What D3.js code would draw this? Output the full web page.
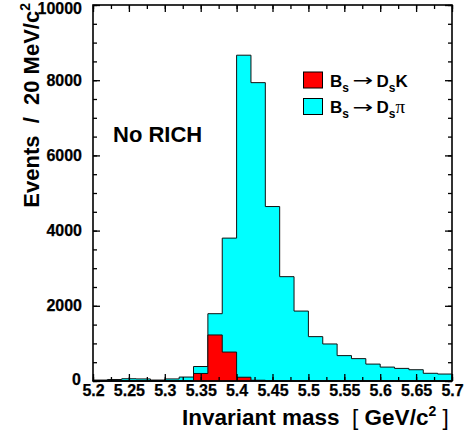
<!DOCTYPE html>
<html><head><meta charset="utf-8">
<script src="https://cdn.jsdelivr.net/npm/d3@7"></script>
<style>
body{margin:0;background:#fff}
svg text{font-family:"Liberation Sans",Arial,Helvetica,sans-serif;}
</style>
</head><body>
<svg id="c" width="470" height="435"></svg>
<script>
// ---- data ----
const binLow = [5.20,5.22,5.24,5.26,5.28,5.30,5.32,5.34,5.36,5.38,5.40,5.42,5.44,5.46,5.48,5.50,5.52,5.54,5.56,5.58,5.60,5.62,5.64,5.66,5.68];
const binWidth = 0.02;
const dsPi = [25,40,60,55,25,55,105,385,1790,3800,8665,7935,4640,2775,1860,1180,985,675,595,450,370,335,300,205,185];
const dsK  = [0,0,0,0,0,0,0,200,1225,770,100,20,0,0,0,0,0,0,0,0,0,0,0,0,0];
const xTickValues = [5.2,5.25,5.3,5.35,5.4,5.45,5.5,5.55,5.6,5.65,5.7];
const xTickLabels = ["5.2","5.25","5.3","5.35","5.4","5.45","5.5","5.55","5.6","5.65","5.7"];
const yTickValues = [0,2000,4000,6000,8000,10000];
const yTickLabels = ["0","2000","4000","6000","8000","10000"];

// ---- layout ----
const L=93, R=452, T=5, B=381;
const svg = d3.select("#c");
svg.append("rect").attr("width",470).attr("height",435).attr("fill","#fff");

const x = d3.scaleLinear([5.2,5.7],[L,R]);
const y = d3.scaleLinear([0,10000],[B,T]);

const n = binLow.length;
const stepPts = vals => binLow.map((b,i)=>[b,vals[i]]).concat([[binLow[n-1]+binWidth, vals[n-1]]]);
const area = d3.area().x(d=>x(d[0])).y0(y(0)).y1(d=>y(d[1])).curve(d3.curveStepAfter);

svg.append("path").attr("d",area(stepPts(dsPi)))
  .attr("fill","#00ffff").attr("stroke","#111").attr("stroke-width",1);
svg.append("path").attr("d",area(stepPts(dsK)))
  .attr("fill","#ff0000").attr("stroke","#111").attr("stroke-width",1);

// ---- axes ----
const xMinor = d3.range(0,21).map(i=>5.2+i*0.025);
const yMinor = d3.range(0,21).map(i=>i*500);
function styleAxis(g){
  g.attr("font-family",null).attr("font-size",null);
  g.select(".domain").remove();
  g.selectAll("line").attr("stroke","#000").attr("stroke-width",1.3);
  g.selectAll("text").attr("fill","#000").attr("font-weight","bold")
   .style("font-weight","700").style("font-size","16px")
   .style("font-family",'"Liberation Sans",Arial,sans-serif')
   .attr("stroke","#000").attr("stroke-width",0.25);
}
const fx = d => xTickLabels[xTickValues.indexOf(d)];
const fy = d => yTickLabels[yTickValues.indexOf(d)];

svg.append("g").attr("transform",`translate(0,${B})`)
  .call(d3.axisBottom(x).tickValues(xMinor).tickSize(-4).tickFormat("")).call(styleAxis);
svg.append("g").attr("transform",`translate(0,${B})`)
  .call(d3.axisBottom(x).tickValues(xTickValues).tickSize(-7).tickSizeOuter(0).tickPadding(4).tickFormat(fx)).call(styleAxis);
svg.append("g").attr("transform",`translate(0,${T})`)
  .call(d3.axisTop(x).tickValues(xMinor).tickSize(-4).tickFormat("")).call(styleAxis);
svg.append("g").attr("transform",`translate(0,${T})`)
  .call(d3.axisTop(x).tickValues(xTickValues).tickSize(-7).tickFormat("")).call(styleAxis);

svg.append("g").attr("transform",`translate(${L},0)`)
  .call(d3.axisLeft(y).tickValues(yMinor).tickSize(-4).tickFormat("")).call(styleAxis);
const yl = svg.append("g").attr("transform",`translate(${L},0)`)
  .call(d3.axisLeft(y).tickValues(yTickValues).tickSize(-7).tickPadding(11).tickFormat(fy)).call(styleAxis);
svg.append("g").attr("transform",`translate(${R},0)`)
  .call(d3.axisRight(y).tickValues(yMinor).tickSize(-4).tickFormat("")).call(styleAxis);
svg.append("g").attr("transform",`translate(${R},0)`)
  .call(d3.axisRight(y).tickValues(yTickValues).tickSize(-7).tickFormat("")).call(styleAxis);

// zero label shifted like ROOT, top label kept inside
yl.selectAll(".tick").filter(d=>d===0).select("text").attr("dy","0.2em").attr("x",-12);
yl.selectAll(".tick").filter(d=>d===10000).select("text").attr("dy","0.5em");

// frame
svg.append("rect").attr("x",L).attr("y",T).attr("width",R-L).attr("height",B-T)
  .attr("fill","none").attr("stroke","#000").attr("stroke-width",1.6);

// ---- titles ----
const xt = svg.append("text").attr("x",182).attr("y",425).attr("text-anchor","start")
  .style("font-size","22.5px").style("white-space","pre").attr("fill","#000");
xt.append("tspan").style("font-weight","bold").text("Invariant mass  ");
xt.append("tspan").style("font-weight","normal").text("[ ");
xt.append("tspan").style("font-weight","bold").text("GeV/c");
xt.append("tspan").style("font-weight","bold").style("font-size","14px").attr("dy",-9).text("2");
xt.append("tspan").style("font-weight","normal").attr("dy",9).text(" ]");

const yt = svg.append("text").attr("transform","translate(39,3) rotate(-90)").attr("text-anchor","end")
  .style("font-size","22px").style("font-weight","bold").style("white-space","pre").attr("fill","#000");
yt.append("tspan").text("Events  /  20 MeV/c");
yt.append("tspan").style("font-size","14px").attr("dy",-9).text("2");

svg.append("text").attr("x",113).attr("y",142).style("font-size","22px").style("font-weight","bold")
  .attr("fill","#000").text("No RICH");

// ---- legend ----
const legend = [
  {fill:"#ff0000", sym:"K", y:72},
  {fill:"#00ffff", sym:"π", y:98.5}
];
legend.forEach(d=>{
  const base = d.y+14.5;
  svg.append("rect").attr("x",303.5).attr("y",d.y).attr("width",19).attr("height",16)
    .attr("fill",d.fill).attr("stroke","#000").attr("stroke-width",1);
  const t1 = svg.append("text").attr("x",330).attr("y",base).style("font-size","17px")
    .style("font-weight","bold").attr("fill","#000");
  t1.append("tspan").text("B");
  t1.append("tspan").style("font-size","12px").attr("dy",5).text("s");
  svg.append("text").attr("x",0).attr("y",0)
    .attr("transform",`translate(352.5,${base-0.5}) scale(1.45,1)`)
    .style("font-family",'"DejaVu Sans",sans-serif').style("font-size","17px")
    .attr("fill","#000").text("→");
  const t2 = svg.append("text").attr("x",376.5).attr("y",base).style("font-size","17px")
    .style("font-weight","bold").attr("fill","#000");
  t2.append("tspan").text("D");
  t2.append("tspan").style("font-size","12px").attr("dy",5).text("s");
  if(d.sym==="K"){
    t2.append("tspan").attr("dy",-5).text("K");
  } else {
    t2.append("tspan").style("font-family",'"Liberation Serif","Times New Roman",serif')
      .style("font-weight","normal").style("font-size","19px").attr("dy",-5).text("π");
  }
});
</script>
</body></html>
